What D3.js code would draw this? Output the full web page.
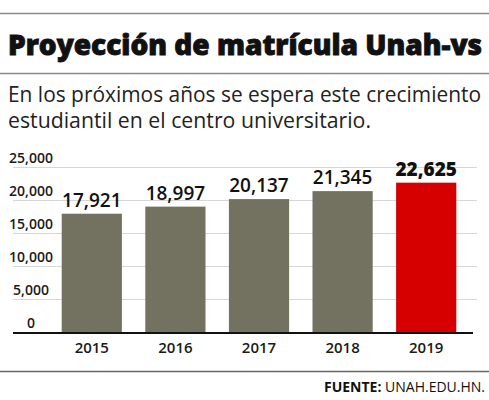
<!DOCTYPE html>
<html>
<head>
<meta charset="utf-8">
<title>Proyección de matrícula Unah-vs</title>
<script src="https://cdn.jsdelivr.net/npm/d3@7"></script>
<style>
  body { margin: 0; background: #fff; }
  text { font-family: "Open Sans", sans-serif; }
</style>
</head>
<body>
<script>
// data
var years = ["2015", "2016", "2017", "2018", "2019"];
var matricula = [17921, 18997, 20137, 21345, 22625];
var yTicks = [0, 5000, 10000, 15000, 20000, 25000];

var w = 489, h = 400;

var svg = d3.select("body").append("svg")
  .attr("width", w)
  .attr("height", h);

// header rules
svg.append("line").attr("x1", 0).attr("x2", w).attr("y1", 13.5).attr("y2", 13.5)
  .attr("stroke", "#8a8a8a").attr("stroke-width", 1.5);
svg.append("line").attr("x1", 0).attr("x2", w).attr("y1", 73.5).attr("y2", 73.5)
  .attr("stroke", "#8a8a8a").attr("stroke-width", 1.5);

svg.append("text")
  .attr("x", 8).attr("y", 55)
  .attr("textLength", 474).attr("lengthAdjust", "spacingAndGlyphs")
  .style("font-size", "28px").style("font-weight", 800).attr("fill", "#111")
  .attr("stroke", "#111").attr("stroke-width", 0.9)
  .text("Proyección de matrícula Unah-vs");

svg.append("text")
  .attr("x", 8).attr("y", 102)
  .attr("textLength", 473).attr("lengthAdjust", "spacingAndGlyphs")
  .style("font-size", "21px").attr("fill", "#222")
  .text("En los próximos años se espera este crecimiento");
svg.append("text")
  .attr("x", 8).attr("y", 128)
  .attr("textLength", 363).attr("lengthAdjust", "spacingAndGlyphs")
  .style("font-size", "21px").attr("fill", "#222")
  .text("estudiantil en el centro universitario.");

// scales
var x = d3.scaleBand().domain(years).range([50, 468]).paddingInner(0.28).paddingOuter(0.14);
var y = d3.scaleLinear().domain([0, 25000]).range([332, 167]);

// grid
svg.append("g").selectAll("line")
  .data(yTicks.filter(function(d) { return d > 0; }))
  .enter().append("line")
  .attr("x1", 13).attr("x2", 477)
  .attr("y1", function(d) { return y(d) + 0.5; })
  .attr("y2", function(d) { return y(d) + 0.5; })
  .attr("stroke", "#d6d6d6").attr("stroke-width", 1);

// y tick labels (above grid lines)
svg.append("g").selectAll("text")
  .data(yTicks)
  .enter().append("text")
  .attr("x", 31)
  .attr("y", function(d) { return y(d) - 4; })
  .attr("text-anchor", "middle")
  .style("font-size", "14px").style("font-weight", 600).attr("fill", "#1a1a1a")
  .text(function(d) { return d3.format(",")(d); });

// bars
svg.append("g").selectAll("rect")
  .data(matricula)
  .enter().append("rect")
  .attr("x", function(d, i) { return x(years[i]); })
  .attr("width", x.bandwidth())
  .attr("y", function(d) { return y(d); })
  .attr("height", function(d) { return y(0) - y(d); })
  .attr("fill", function(d, i) { return i == years.length - 1 ? "#d60000" : "#737160"; });

// value labels
svg.append("g").selectAll("text")
  .data(matricula)
  .enter().append("text")
  .attr("x", function(d, i) { return x(years[i]) + x.bandwidth() / 2; })
  .attr("y", function(d) { return y(d) - 7; })
  .attr("text-anchor", "middle")
  .style("font-size", "19px")
  .style("font-weight", function(d, i) { return i == years.length - 1 ? 800 : 600; })
  .attr("fill", "#111")
  .text(function(d) { return d3.format(",")(d); });

// baseline
svg.append("line").attr("x1", 13).attr("x2", 473).attr("y1", y(0) + 1).attr("y2", y(0) + 1)
  .attr("stroke", "#111").attr("stroke-width", 2);

// x axis labels
svg.append("g").selectAll("text")
  .data(years)
  .enter().append("text")
  .attr("x", function(d) { return x(d) + x.bandwidth() / 2; })
  .attr("y", 353)
  .attr("text-anchor", "middle")
  .style("font-size", "15px").style("font-weight", 600).attr("fill", "#1a1a1a")
  .text(function(d) { return d; });

// footer
svg.append("line").attr("x1", 0).attr("x2", w).attr("y1", 371.5).attr("y2", 371.5)
  .attr("stroke", "#666").attr("stroke-width", 1.5);

var src = svg.append("text")
  .attr("x", 485).attr("y", 392)
  .attr("text-anchor", "end")
  .style("font-size", "14px").attr("fill", "#111");
src.append("tspan").style("font-weight", 700).text("FUENTE: ");
src.append("tspan").style("font-weight", 400).text("UNAH.EDU.HN.");
</script>
</body>
</html>
